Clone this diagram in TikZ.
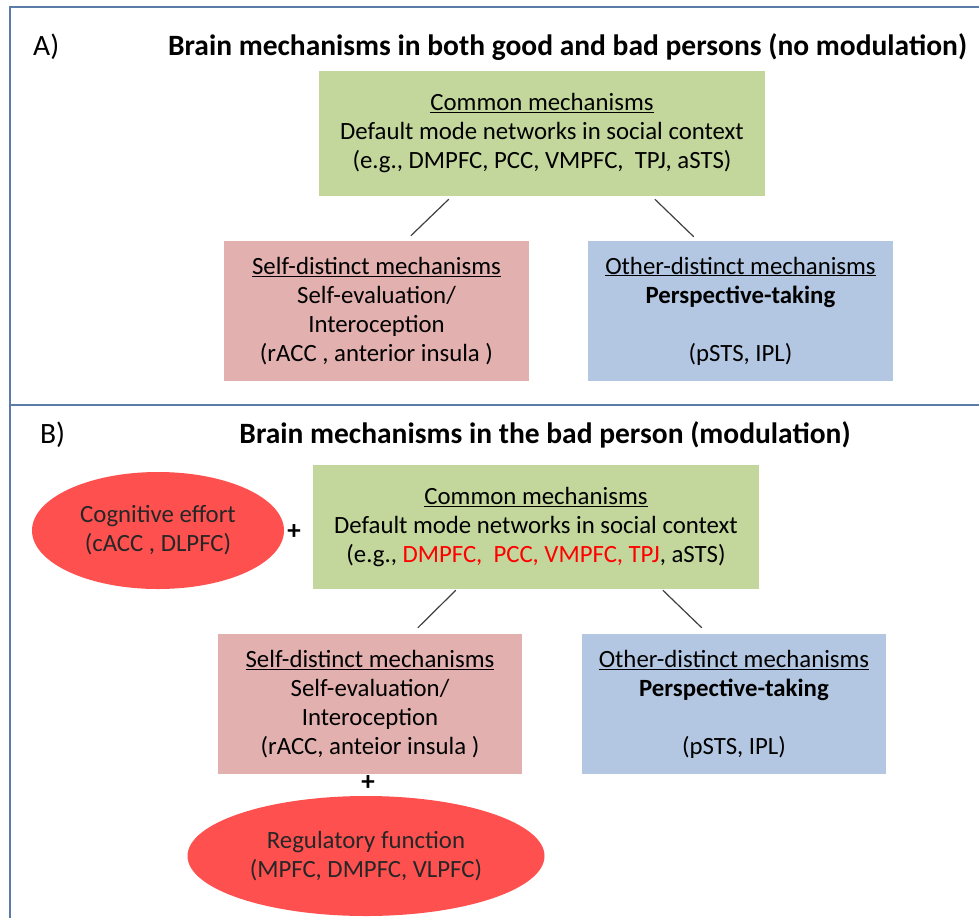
\documentclass[tikz,border=0pt]{standalone}
\usepackage{fontspec}
\setmainfont{Carlito}
\usetikzlibrary{shapes.geometric}
\definecolor{gfill}{HTML}{C3D69B}
\definecolor{pfill}{HTML}{E2B0AE}
\definecolor{bfill}{HTML}{B3C7E2}
\definecolor{efill}{HTML}{FF5050}
\definecolor{framec}{HTML}{5B7BA8}
\definecolor{linkc}{HTML}{404040}
\definecolor{redtxt}{HTML}{FF0000}
\newcommand{\bodyfnt}{\fontsize{24.8}{29}\selectfont}
\newcommand{\titlefnt}{\fontsize{29.5}{34}\selectfont}
\begin{document}
\begin{tikzpicture}[x=1pt,y=-1pt,
  box/.style={rectangle, draw=none, inner sep=0pt, align=center, font=\bodyfnt, text=black},
  oval/.style={ellipse, draw=none, fill=efill, inner sep=0pt, align=center, font=\bodyfnt, text=black!85},
  link/.style={draw=linkc, line width=1.2pt},
  framel/.style={draw=framec, line width=2pt},
  ttl/.style={font=\titlefnt\bfseries, anchor=base, inner sep=0pt},
  lbl/.style={font=\titlefnt, anchor=base west, inner sep=0pt},
  plus/.style={font=\fontsize{27}{30}\selectfont\bfseries, inner sep=0pt}]
\useasboundingbox (0,0) rectangle (979,918);
\fill[white] (0,0) rectangle (979,918);
% frame
\draw[framel] (10,918) -- (10,7) -- (979,7);
\draw[framel] (10,405) -- (979,405);
% panel A
\node[lbl] (labA) at (33,55) {A)};
\node[ttl] (titA) at (567.5,55) {Brain mechanisms in both good and bad persons (no modulation)};
\node[box, fill=gfill, minimum width=446pt, minimum height=125pt] (gA) at (542,133.5)
  {\underline{Common mechanisms}\\Default mode networks in social context\\(e.g., DMPFC, PCC, VMPFC,\ \ TPJ, aSTS)};
\node[box, fill=pfill, minimum width=305pt, minimum height=140pt] (pA) at (376.5,311)
  {\underline{Self-distinct mechanisms}\\Self-evaluation/\\Interoception\\(rACC , anterior insula )};
\node[box, fill=bfill, minimum width=305pt, minimum height=140pt] (bA) at (740.5,311)
  {\underline{Other-distinct mechanisms}\\\textbf{Perspective-taking}\\\mbox{}\\(pSTS, IPL)};
\coordinate (a1) at ([xshift=130pt,yshift=-3pt]gA.south west);
\coordinate (a2) at ([xshift=187pt,yshift=5pt]pA.north west);
\coordinate (a3) at ([xshift=336pt,yshift=-3pt]gA.south west);
\coordinate (a4) at ([xshift=106pt,yshift=4pt]bA.north west);
\draw[link] (a1) -- (a2);
\draw[link] (a3) -- (a4);
% panel B
\node[lbl] (labB) at (40,443) {B)};
\node[ttl] (titB) at (545,443) {Brain mechanisms in the bad person (modulation)};
\node[box, fill=gfill, minimum width=446pt, minimum height=124pt] (gB) at (536,527)
  {\underline{Common mechanisms}\\Default mode networks in social context\\(e.g., \textcolor{redtxt}{DMPFC,\ \ PCC, VMPFC, TPJ}, aSTS)};
\node[box, fill=pfill, minimum width=304pt, minimum height=140pt] (pB) at (370,704)
  {\underline{Self-distinct mechanisms}\\Self-evaluation/\\Interoception\\(rACC, anteior insula )};
\node[box, fill=bfill, minimum width=304pt, minimum height=140pt] (bB) at (734,704)
  {\underline{Other-distinct mechanisms}\\\textbf{Perspective-taking}\\\mbox{}\\(pSTS, IPL)};
\node[oval, minimum width=252pt, minimum height=117pt] (eCog) at (158,530.5)
  {Cognitive effort\\(cACC , DLPFC)};
\node[oval, minimum width=357pt, minimum height=120pt] (eReg) at (366,856)
  {Regulatory function\\(MPFC, DMPFC, VLPFC)};
\node[plus] (p1) at (294,532) {+};
\node[plus] (p2) at (368,783) {+};
\coordinate (b1) at ([xshift=143pt,yshift=-1pt]gB.south west);
\coordinate (b2) at ([xshift=200pt,yshift=6pt]pB.north west);
\coordinate (b3) at ([xshift=350pt,yshift=-1pt]gB.south west);
\coordinate (b4) at ([xshift=120pt,yshift=6pt]bB.north west);
\draw[link] (b1) -- (b2);
\draw[link] (b3) -- (b4);
\end{tikzpicture}
\end{document}
